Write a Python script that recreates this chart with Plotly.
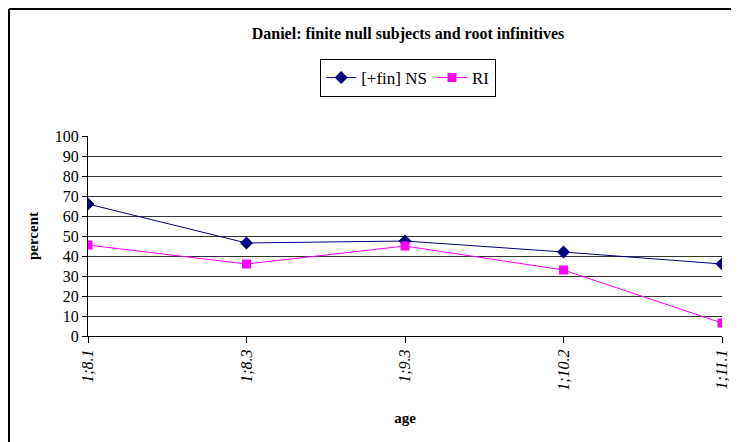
import plotly.graph_objects as go

ages = ["1;8.1", "1;8.3", "1;9.3", "1;10.2", "1;11.1"]
fin_ns = [66, 46.5, 47.5, 42, 36]
ri = [45.5, 36, 45, 33, 6.5]

SERIF = "Liberation Serif, Times New Roman, serif"

fig = go.Figure()

fig.add_trace(go.Scatter(
    x=ages, y=fin_ns, name="[+fin] NS", mode="lines+markers",
    line=dict(color="#000080", width=1),
    marker=dict(symbol="diamond", size=10, color="#000080"),
))
fig.add_trace(go.Scatter(
    x=ages, y=ri, name="RI", mode="lines+markers",
    line=dict(color="#FF00FF", width=1),
    marker=dict(symbol="square", size=9, color="#FF00FF"),
))

fig.update_layout(
    width=739,
    height=442,
    margin=dict(l=80, r=25, t=128, b=114),
    paper_bgcolor="white",
    plot_bgcolor="white",
    font=dict(family=SERIF, size=16, color="black"),
    title=dict(
        text="<b>Daniel: finite null subjects and root infinitives</b>",
        font=dict(size=16, color="black"),
        x=400 / 739, xanchor="center", y=1 - 25 / 442, yanchor="middle",
    ),
    legend=dict(
        orientation="h",
        x=0.505, xanchor="center",
        y=1.385, yanchor="top",
        bordercolor="black", borderwidth=1,
        font=dict(size=17),
        itemwidth=30,
        tracegroupgap=0,
    ),
    showlegend=True,
)

fig.update_xaxes(
    type="category",
    range=[0, 4],
    showgrid=False,
    showline=True, linecolor="black", linewidth=1,
    ticks="outside", ticklen=6, tickcolor="black",
    tickangle=-90,
    tickfont=dict(family=SERIF, size=16, style="italic"),
    title=dict(text="<b>age</b>", font=dict(size=15), standoff=22),
)
fig.update_yaxes(
    range=[0, 100],
    dtick=10,
    showgrid=True, gridcolor="#333333", gridwidth=1,
    showline=True, linecolor="black", linewidth=1,
    ticks="outside", ticklen=5, tickcolor="black",
    tickfont=dict(family=SERIF, size=16),
    zeroline=False,
    title=dict(text="<b>percent</b>", font=dict(size=15), standoff=12),
)

# outer chart frame (left and top edges visible)
fig.add_shape(type="line", xref="paper", yref="paper",
              x0=-79 / 634, x1=-79 / 634, y0=327 / 200, y1=-0.6,
              line=dict(color="black", width=2))
fig.add_shape(type="line", xref="paper", yref="paper",
              x0=-79 / 634, x1=1.1, y0=327 / 200, y1=327 / 200,
              line=dict(color="black", width=2))

fig.write_html("out.html")
